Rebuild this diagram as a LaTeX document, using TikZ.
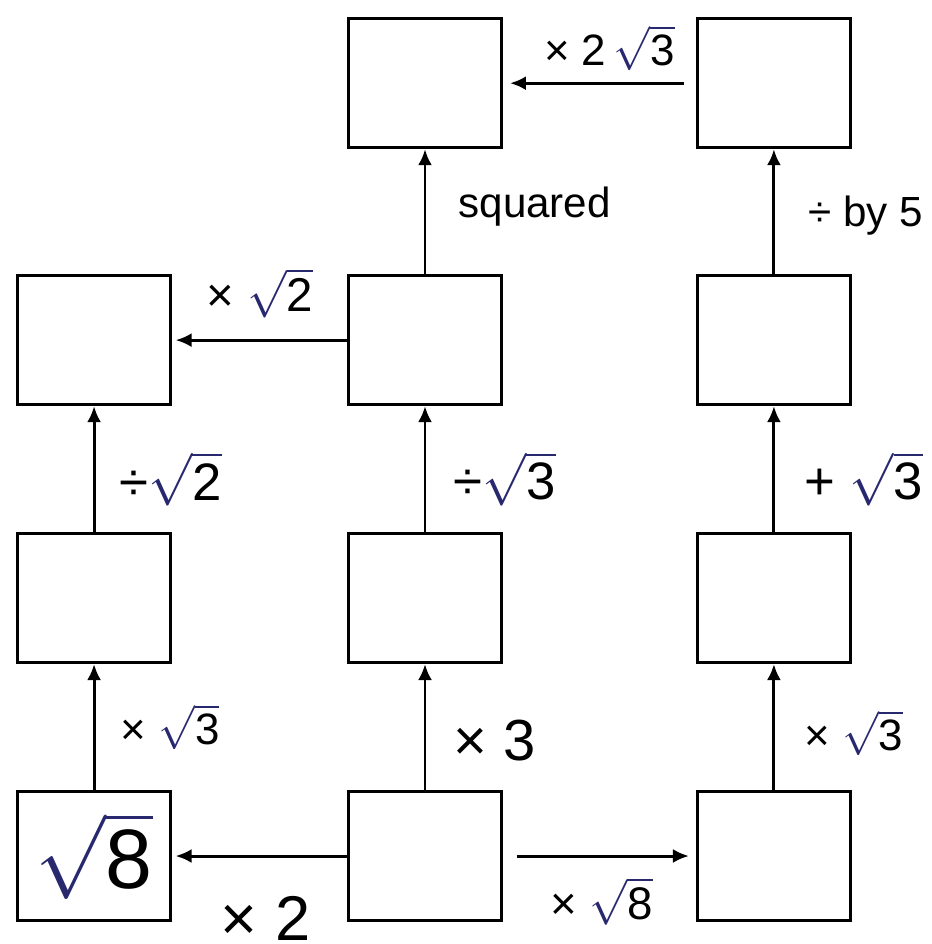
\RequirePackage{fix-cm}
\documentclass[tikz,border=0pt]{standalone}
\usepackage{fontspec}
\setmainfont{Liberation Sans}
\usetikzlibrary{arrows.meta,positioning}
\definecolor{navy}{RGB}{40,40,110}
\def\rt#1{{\color{navy}$\sqrt{\mbox{\color{black}#1}}$}}
\def\fs#1{\fontsize{#1}{#1}\selectfont}

\begin{document}
\begin{tikzpicture}[x=0.02cm,y=0.02cm,>={Latex[length=0.32cm,width=0.28cm]},
    box/.style={draw,line width=1.7pt,minimum width=3.06cm,minimum height=2.58cm,inner sep=0pt},
    arr/.style={->,line width=1.7pt},
    lbl/.style={inner sep=0pt}]
    \useasboundingbox (0,0) rectangle (932,-944);

    % bottom row
    \node[box] (bm) at (425,-856) {};
    \node[box,left=3.5cm of bm] (bl) {\fs{48}\rt{8}};
    \node[box,right=3.86cm of bm] (br) {};

    % the three columns
    \node[box,above=2.52cm of bl] (l3) {};
    \node[box,above=2.52cm of bm] (m3) {};
    \node[box,above=2.52cm of br] (r3) {};
    \node[box,above=2.52cm of l3] (l2) {};
    \node[box,above=2.52cm of m3] (m2) {};
    \node[box,above=2.52cm of r3] (r2) {};
    \node[box,above=2.5cm of m2] (m1) {};
    \node[box,above=2.5cm of r2] (r1) {};

    \draw[arr,shorten >=2pt] (bm) -- (bl) node[lbl,midway,below=0.78cm,xshift=0.12cm] (times2) {\fs{36}× 2};
    \draw[arr,shorten <=0.28cm,shorten >=0.14cm] (bm) -- (br) node[lbl,midway,below=0.4cm,xshift=0.04cm] (timesr8) {\fs{26}× \rt{8}};

    \draw[arr] (bl) -- (l3) node[lbl,midway,right=0.5cm] (lx3) {\fs{25}× \rt{3}};
    \draw[arr] (l3) -- (l2) node[lbl,midway,right=0.48cm,yshift=-0.2cm] (ldiv2) {\fs{30}÷\rt{2}};
    \draw[arr,shorten >=2pt] (m2) -- (l2) node[lbl,midway,above=0.42cm] (lx2) {\fs{27}× \rt{2}};

    \draw[arr] (bm) -- (m3) node[lbl,midway,right=0.54cm,yshift=-0.28cm] (mx3) {\fs{33}× 3};
    \draw[arr] (m3) -- (m2) node[lbl,midway,right=0.54cm,yshift=-0.2cm] (mdiv3) {\fs{30}÷\rt{3}};
    \draw[arr] (m2) -- (m1) node[lbl,midway,right=0.64cm,yshift=0.1cm] (msq) {\fs{24}squared};

    \draw[arr] (br) -- (r3) node[lbl,midway,right=0.58cm,yshift=-0.12cm] (rx3) {\fs{25}× \rt{3}};
    \draw[arr] (r3) -- (r2) node[lbl,midway,right=0.58cm,yshift=-0.2cm] (rplus3) {\fs{30}+ \rt{3}};
    \draw[arr] (r2) -- (r1) node[lbl,midway,right=0.66cm,yshift=-0.08cm] (rby5) {\fs{24}÷ by 5};
    \draw[arr,shorten <=0.24cm,shorten >=0.14cm] (r1) -- (m1) node[lbl,midway,above=0.22cm,xshift=0.2cm] (rx23) {\fs{25}× 2\,\rt{3}};
\end{tikzpicture}
\end{document}
